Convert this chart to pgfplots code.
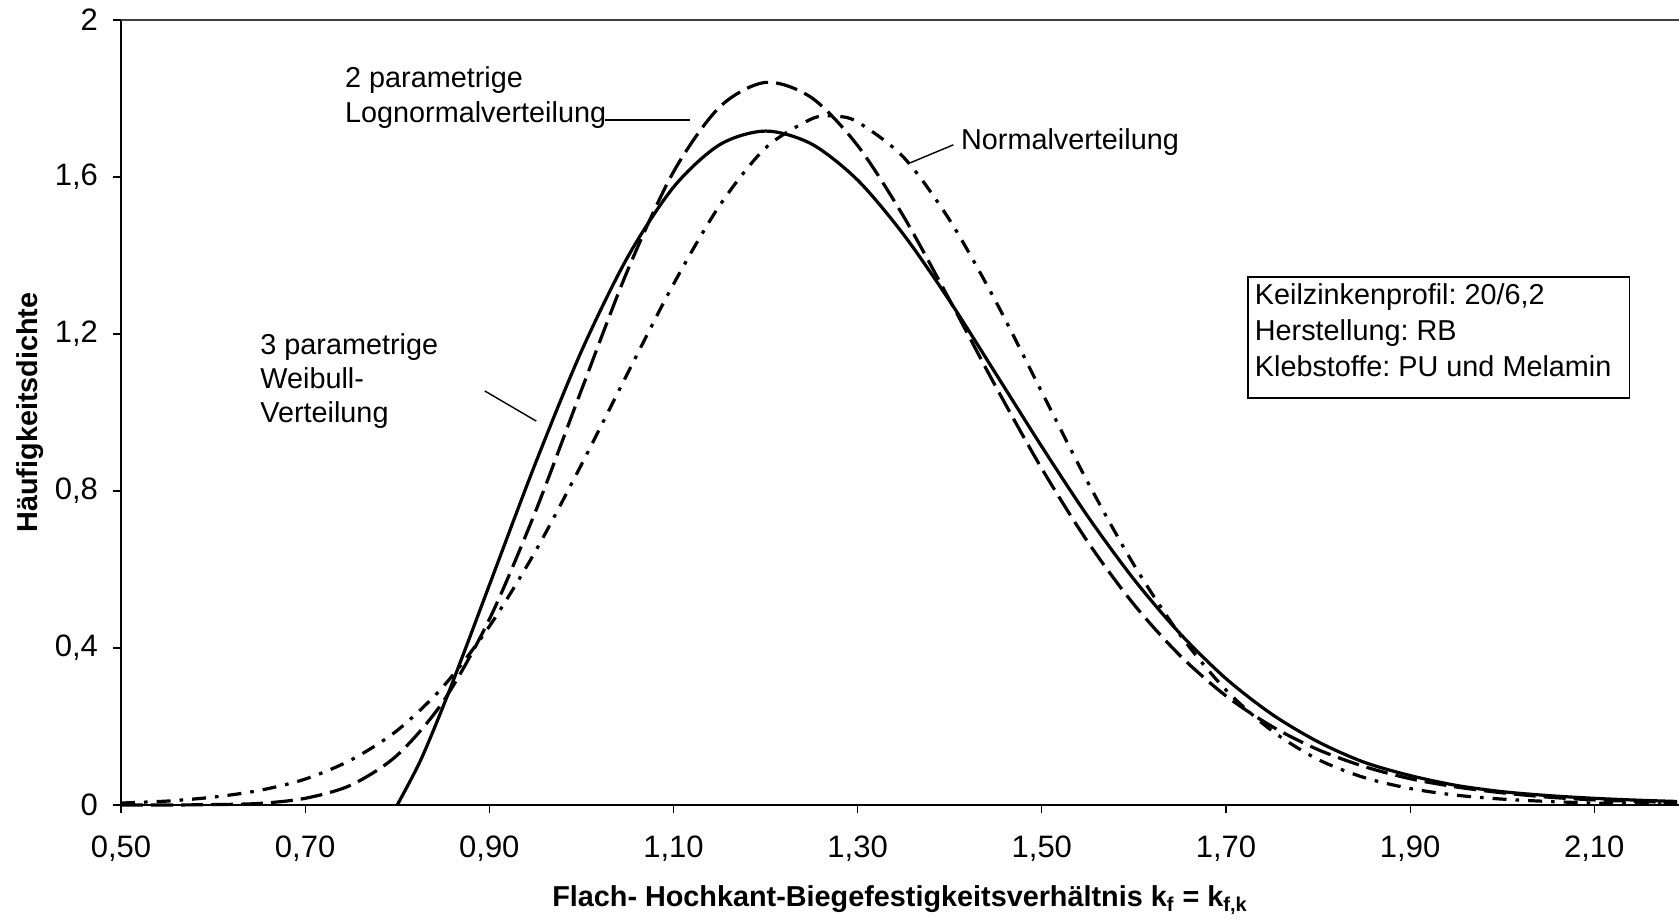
\documentclass[border=0pt]{standalone}
\usepackage{fontspec}
\setmainfont{Liberation Sans}
\usepackage{pgfplots}
\pgfplotsset{compat=1.18}
\frenchspacing
\begin{document}
\begin{tikzpicture}
\begin{axis}[
  scale only axis, width=779pt, height=392.5pt,
  xmin=0.5, xmax=2.192, ymin=0, ymax=2,
  axis lines=left, axis line style={-, line width=0.8pt},
  tick align=outside, major tick length=4pt, tick style={line width=0.6pt, black},
  /pgf/number format/assume math mode=true,
  every tick label/.append style={font=\fontsize{15.5}{17}\selectfont},
  xtick={0.5,0.7,0.9,1.1,1.3,1.5,1.7,1.9,2.1},
  ytick={0,0.4,0.8,1.2,1.6},
  extra y ticks={2},
  extra y tick style={grid=major, major grid style={line width=0.6pt, black!75}},
  xticklabel style={yshift=-8pt, /pgf/number format/fixed, /pgf/number format/fixed zerofill, /pgf/number format/precision=2, /pgf/number format/use comma},
  yticklabel style={xshift=-4pt, /pgf/number format/fixed, /pgf/number format/precision=1, /pgf/number format/use comma},
  xlabel={\bfseries Flach- Hochkant-Biegefestigkeitsverhältnis k\textsubscript{f} = k\textsubscript{f,k}},
  ylabel={\bfseries Häufigkeitsdichte},
  label style={font=\fontsize{14.4}{16}\selectfont},
  xlabel style={at={(axis description cs:0.5,0)}, anchor=center, yshift=-47.5pt},
  ylabel style={at={(axis description cs:-0.0584,0.5)}, anchor=center},
  clip=false,
]
% 3 parametrige Weibull-Verteilung
\addplot[black, line width=1.6pt, smooth] coordinates {
(0.800,0.000)(0.825,0.112)(0.850,0.252)(0.875,0.404)(0.900,0.560)(0.950,0.870)
(1.000,1.156)(1.050,1.395)(1.100,1.574)(1.150,1.682)(1.200,1.717)(1.250,1.684)
(1.300,1.592)(1.350,1.453)(1.400,1.284)(1.450,1.099)(1.500,0.913)(1.550,0.735)
(1.600,0.575)(1.650,0.437)(1.700,0.322)(1.750,0.231)(1.800,0.161)(1.850,0.109)
(1.900,0.075)(1.950,0.050)(2.000,0.034)(2.050,0.024)(2.100,0.017)(2.150,0.012)(2.190,0.009)
};
% 2 parametrige Lognormalverteilung
\addplot[black, line width=1.6pt, dash pattern=on 11pt off 4pt, smooth] coordinates {
(0.50,0.000)(0.55,0.000)(0.60,0.001)(0.65,0.004)(0.70,0.017)(0.75,0.051)(0.80,0.127)
(0.85,0.264)(0.90,0.473)(0.95,0.747)(1.00,1.057)(1.05,1.361)(1.10,1.613)(1.15,1.778)
(1.20,1.841)(1.25,1.802)(1.30,1.680)(1.35,1.499)(1.40,1.286)(1.45,1.066)(1.50,0.857)
(1.55,0.670)(1.60,0.511)(1.65,0.381)(1.70,0.278)(1.75,0.200)(1.80,0.141)(1.85,0.098)
(1.90,0.067)(1.95,0.046)(2.00,0.031)(2.05,0.020)(2.10,0.013)(2.15,0.009)(2.19,0.006)
};
% Normalverteilung
\addplot[black, line width=1.6pt, dash pattern=on 7pt off 4.5pt on 1.8pt off 4.5pt, smooth] coordinates {
(0.50,0.005)(0.55,0.010)(0.60,0.020)(0.65,0.037)(0.70,0.066)(0.75,0.115)(0.80,0.190)
(0.85,0.302)(0.90,0.455)(0.95,0.646)(1.00,0.867)(1.05,1.099)(1.10,1.327)(1.15,1.527)
(1.20,1.674)(1.25,1.748)(1.275,1.755)(1.30,1.740)(1.35,1.650)(1.40,1.490)(1.45,1.283)
(1.50,1.052)(1.55,0.822)(1.60,0.612)(1.65,0.434)(1.70,0.293)(1.75,0.189)(1.80,0.116)
(1.85,0.070)(1.90,0.042)(1.95,0.025)(2.00,0.015)(2.05,0.009)(2.10,0.005)(2.15,0.003)(2.19,0.002)
};
% annotations (base = baseline of the last line)
\node[anchor=base west, align=left, inner sep=0pt, font=\fontsize{14.4}{17.5}\selectfont]
  at (axis cs:0.743,1.738) {2 parametrige\\Lognormalverteilung};
\draw[line width=0.7pt] (axis cs:1.026,1.745) -- (axis cs:1.118,1.745);
\node[anchor=base west, inner sep=0pt, font=\fontsize{14.4}{17.5}\selectfont]
  at (axis cs:1.412,1.671) {Normalverteilung};
\draw[line width=0.7pt] (axis cs:1.404,1.682) -- (axis cs:1.357,1.636);
\node[anchor=base west, align=left, inner sep=0pt, font=\fontsize{14.4}{17}\selectfont]
  at (axis cs:0.651,0.9733) {3 parametrige\\Weibull-\\Verteilung};
\draw[line width=0.7pt] (axis cs:0.895,1.055) -- (axis cs:0.951,0.978);
\draw[line width=0.9pt] (axis cs:1.7243,1.037) rectangle (axis cs:2.1382,1.345);
\node[anchor=base west, align=left, inner sep=0pt, font=\fontsize{14.4}{18}\selectfont]
  at (axis cs:1.731,1.0906) {Keilzinkenprofil: 20/6,2\\Herstellung: RB\\Klebstoffe: PU und Melamin};
\end{axis}
\pgfresetboundingbox
\path ([shift={(-60.5pt,-57pt)}]current axis.south west) rectangle ([shift={(0pt,10pt)}]current axis.north east);
\end{tikzpicture}
\end{document}
